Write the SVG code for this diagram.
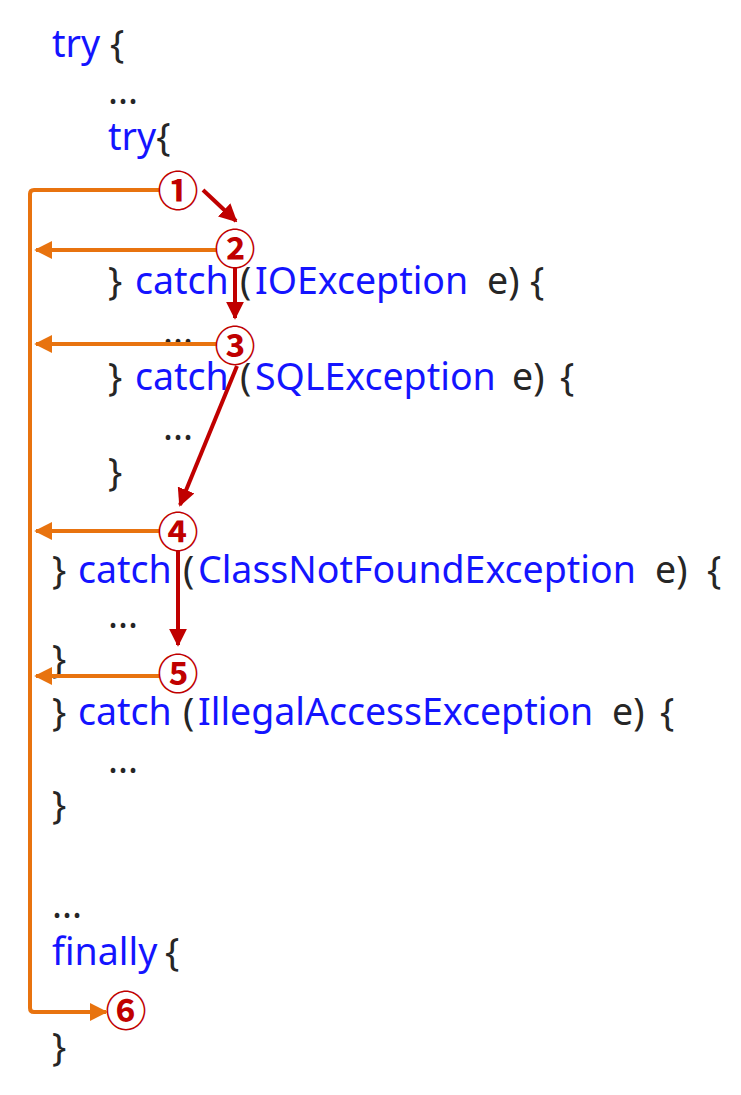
<svg xmlns="http://www.w3.org/2000/svg" width="741" height="1095" viewBox="0 0 741 1095">
<defs>
<style>
text{font-family:"Noto Sans","Open Sans","Liberation Sans",sans-serif;font-size:37.5px}
.k{fill:#1414ff}
.d{fill:#262626}
.n{font-family:"Noto Sans CJK KR","Noto Sans",sans-serif;font-size:41px;fill:#c00000;font-weight:bold;text-anchor:middle}
.o{stroke:#e8730f;stroke-width:4;fill:none}
.r{stroke:#c00000;stroke-width:4;fill:none}
</style>
<marker id="ao" viewBox="0 0 10 10" refX="9" refY="5" markerWidth="4.5" markerHeight="4.5" orient="auto" markerUnits="strokeWidth"><path d="M0,0L10,5L0,10z" fill="#e8730f"/></marker>
<marker id="ar" viewBox="0 0 10 10" refX="9" refY="5" markerWidth="4.5" markerHeight="4.5" orient="auto" markerUnits="strokeWidth"><path d="M0,0L10,5L0,10z" fill="#c00000"/></marker>
</defs>
<g id="code">
<text x="52" y="57"><tspan class="k">try</tspan><tspan class="d" x="110">{</tspan></text>
<text class="d" x="108" y="104">...</text>
<text x="108" y="150"><tspan class="k">try</tspan><tspan class="d">{</tspan></text>
<text y="294"><tspan class="d" x="108">}</tspan><tspan class="k" x="135">catch</tspan><tspan class="d" x="240">(</tspan><tspan class="k" x="255">IOException</tspan><tspan class="d" x="487">e)</tspan><tspan class="d" x="530">{</tspan></text>
<text class="d" x="163" y="344">...</text>
<text y="390"><tspan class="d" x="108">}</tspan><tspan class="k" x="135">catch</tspan><tspan class="d" x="240">(</tspan><tspan class="k" x="255">SQLException</tspan><tspan class="d" x="512">e)</tspan><tspan class="d" x="560">{</tspan></text>
<text class="d" x="163" y="440">...</text>
<text class="d" x="108" y="485">}</text>
<text y="583"><tspan class="d" x="52">}</tspan><tspan class="k" x="78">catch</tspan><tspan class="d" x="183">(</tspan><tspan class="k" x="198">ClassNotFoundException</tspan><tspan class="d" x="655">e)</tspan><tspan class="d" x="707">{</tspan></text>
<text class="d" x="108" y="628">...</text>
<text class="d" x="52" y="672">}</text>
<text y="725"><tspan class="d" x="52">}</tspan><tspan class="k" x="78">catch</tspan><tspan class="d" x="183">(</tspan><tspan class="k" x="198">IllegalAccessException</tspan><tspan class="d" x="612">e)</tspan><tspan class="d" x="660">{</tspan></text>
<text class="d" x="108" y="773">...</text>
<text class="d" x="52" y="818">}</text>
<text class="d" x="52" y="918">...</text>
<text y="965"><tspan class="k" x="52">finally</tspan><tspan class="d" x="165">{</tspan></text>
<text class="d" x="52" y="1060">}</text>
</g>
<g id="connectors">
<path class="o" d="M160,190H34Q30,190 30,194V1008Q30,1012 34,1012H106" marker-end="url(#ao)"/>
<path class="o" d="M217,250H36" marker-end="url(#ao)"/>
<path class="o" d="M217,344H36" marker-end="url(#ao)"/>
<path class="o" d="M160,531H36" marker-end="url(#ao)"/>
<path class="o" d="M160,676H36" marker-end="url(#ao)"/>
<path class="r" d="M203,190L236,221" marker-end="url(#ar)"/>
<path class="r" d="M235,268V318" marker-end="url(#ar)"/>
<path class="r" d="M237,366L180,505" marker-end="url(#ar)"/>
<path class="r" d="M178,551V645" marker-end="url(#ar)"/>
</g>
<g id="n1"><text class="n" x="178" y="206">①</text></g>
<g id="n2"><text class="n" x="235" y="264">②</text></g>
<g id="n3"><text class="n" x="235" y="361">③</text></g>
<g id="n4"><text class="n" x="178" y="547">④</text></g>
<g id="n5"><text class="n" x="178" y="689">⑤</text></g>
<g id="n6"><text class="n" x="126" y="1026">⑥</text></g>
</svg>
